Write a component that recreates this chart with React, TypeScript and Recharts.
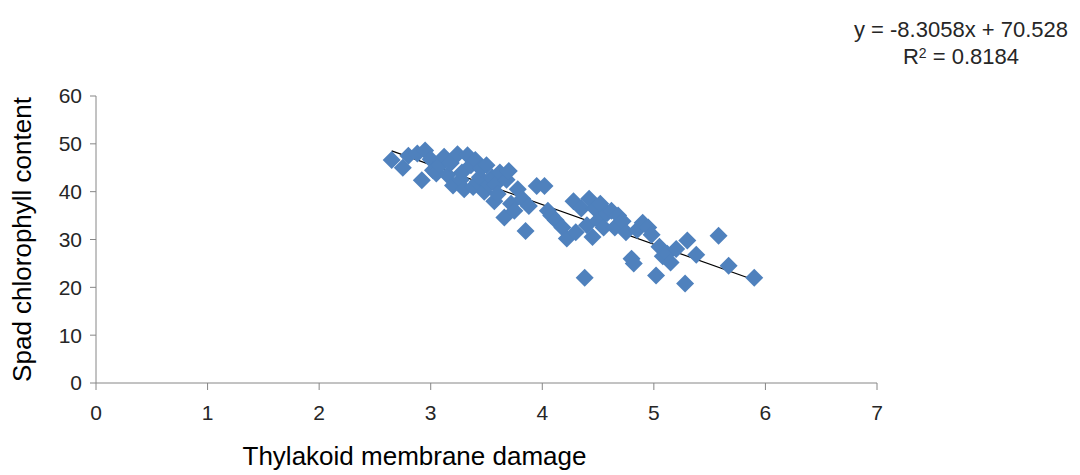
import { ScatterChart, Scatter, XAxis, YAxis, ReferenceLine, Label } from 'recharts'

// thylakoid membrane damage (x) and spad chlorophyll content (y)
const damage = [
  2.65, 2.75, 2.8, 2.88, 2.92, 2.95, 3.0, 3.02, 3.05, 3.08, 3.12, 3.15, 3.18, 3.2, 3.24, 3.27,
  3.28, 3.3, 3.33, 3.36, 3.38, 3.4, 3.42, 3.44, 3.45, 3.48, 3.5, 3.52, 3.55, 3.57, 3.58, 3.6,
  3.62, 3.66, 3.68, 3.7, 3.72, 3.75, 3.78, 3.82, 3.85, 3.88, 3.95, 4.02, 4.05, 4.08, 4.12, 4.18,
  4.22, 4.28, 4.3, 4.35, 4.38, 4.4, 4.42, 4.45, 4.47, 4.5, 4.52, 4.55, 4.58, 4.62, 4.65, 4.68,
  4.72, 4.75, 4.8, 4.82, 4.85, 4.9, 4.95, 4.98, 5.02, 5.05, 5.08, 5.12, 5.15, 5.2, 5.28, 5.3,
  5.38, 5.58, 5.67, 5.9,
]
const chlorophyll = [
  46.6, 45.0, 47.5, 48.0, 42.4, 48.6, 46.8, 44.5, 43.8, 45.5, 47.3, 43.5, 46.0, 41.3, 47.8, 42.5,
  44.0, 40.5, 47.6, 45.5, 41.0, 46.6, 42.0, 43.0, 44.8, 40.0, 45.5, 41.5, 43.0, 38.0, 41.5, 39.5,
  44.0, 34.6, 42.5, 44.3, 37.5, 36.0, 40.5, 38.5, 31.8, 37.0, 41.2, 41.2, 36.0, 35.0, 34.0, 32.5,
  30.2, 38.0, 31.5, 36.5, 22.0, 33.0, 38.5, 30.5, 36.5, 34.0, 37.5, 32.5, 35.5, 36.0, 32.5, 35.0,
  33.8, 31.5, 26.0, 25.0, 32.0, 33.5, 32.5, 31.0, 22.5, 28.5, 26.5, 27.0, 25.2, 28.0, 20.8, 29.8,
  26.8, 30.8, 24.5, 22.0,
]

const xTicks = [0, 1, 2, 3, 4, 5, 6, 7]
const yTicks = [0, 10, 20, 30, 40, 50, 60]

// linear trendline as printed on the chart
const slope = -8.3058
const intercept = 70.528

const points = damage.map((x, i) => ({ x, y: chlorophyll[i] }))
const xMin = Math.min(...damage)
const xMax = Math.max(...damage)

const font = '"Liberation Sans", Arial, sans-serif'
const axisColor = '#868686'
const textColor = '#262626'

function Diamond(props: any) {
  const { cx, cy } = props
  const r = 9
  return (
    <polygon
      points={`${cx},${cy - r} ${cx + r},${cy} ${cx},${cy + r} ${cx - r},${cy}`}
      fill="#4F81BD"
    />
  )
}

export default function App() {
  return (
    <div
      style={{
        position: 'absolute',
        left: 0,
        top: 0,
        width: 1080,
        height: 475,
        background: '#fff',
        fontFamily: font,
      }}
    >
      <ScatterChart width={1080} height={475} margin={{ top: 96, right: 203, bottom: 0, left: 40 }}>
        <XAxis
          type="number"
          dataKey="x"
          domain={[0, 7]}
          ticks={xTicks}
          interval={0}
          allowDataOverflow
          stroke={axisColor}
          tickSize={7}
          tickMargin={15}
          tick={{ fill: textColor, fontSize: 21, fontFamily: font }}
          height={92}
        >
          <Label
            value="Thylakoid membrane damage"
            position="insideBottom"
            offset={10}
            dx={-72}
            style={{ fill: '#000', fontSize: 26, fontFamily: font }}
          />
        </XAxis>
        <YAxis
          type="number"
          dataKey="y"
          domain={[0, 60]}
          ticks={yTicks}
          interval={0}
          allowDataOverflow
          stroke={axisColor}
          tickSize={6}
          tickMargin={8}
          tick={{ fill: textColor, fontSize: 21, fontFamily: font }}
          width={56}
        >
          <Label
            value="Spad chlorophyll content"
            angle={-90}
            position="insideLeft"
            offset={-18}
            style={{ fill: '#000', fontSize: 26, fontFamily: font, textAnchor: 'middle' }}
          />
        </YAxis>
        <Scatter data={points} shape={Diamond} isAnimationActive={false} />
        <ReferenceLine
          segment={[
            { x: xMin, y: slope * xMin + intercept },
            { x: xMax, y: slope * xMax + intercept },
          ]}
          stroke="#000"
          strokeWidth={1.2}
        />
      </ScatterChart>
      <div
        style={{
          position: 'absolute',
          right: 12,
          top: 16,
          fontSize: 22,
          color: textColor,
          textAlign: 'center',
          lineHeight: '27px',
        }}
      >
        <div>y = -8.3058x + 70.528</div>
        <div>
          R<sup style={{ fontSize: 14, verticalAlign: 'top', lineHeight: '20px' }}>2</sup> = 0.8184
        </div>
      </div>
    </div>
  )
}
